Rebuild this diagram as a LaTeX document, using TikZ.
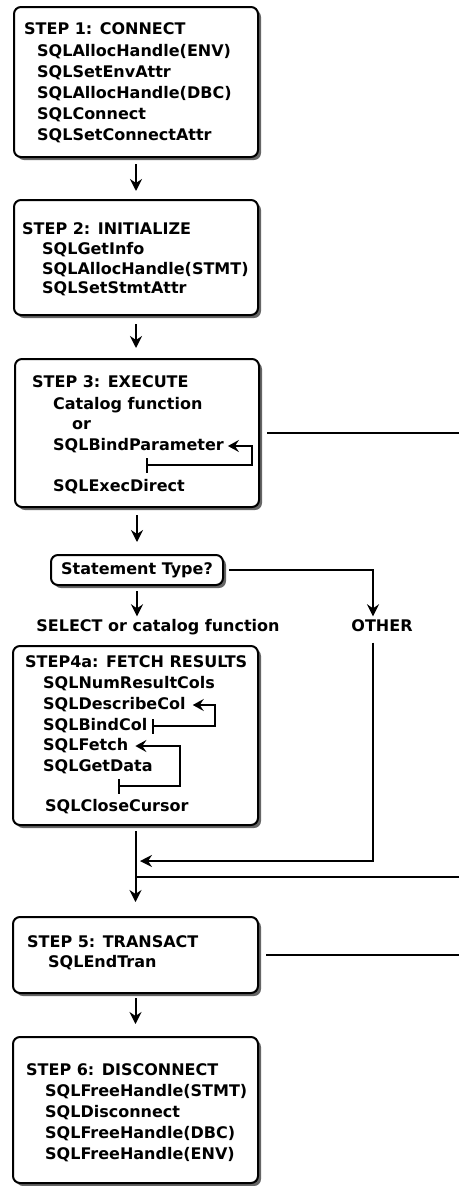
\documentclass[tikz,border=0pt]{standalone}
\usepackage{fontspec}
\setmainfont{DejaVu Sans}
\usetikzlibrary{ arrows.meta, % For the stealth and bar tips
                 shadows      % For the shadow under every box
               }

\begin{document}
\begin{tikzpicture}[x=1pt, y=-1pt,
  stepbox/.style={draw, line width=2pt, rounded corners=7pt, fill=white,
    font=\bfseries\fontsize{16}{16}\selectfont,
    drop shadow={shadow xshift=3pt, shadow yshift=-3pt, fill=black!60, opacity=1}},
  call/.style={anchor=west, inner sep=2pt, text height=12pt, text depth=3pt,
    font=\bfseries\fontsize{16}{16}\selectfont},
  tag/.style={call, anchor=center},
  flow/.style={line width=2pt, -{Stealth[length=12pt, width=12pt, inset=4pt]}},
  loop_line/.style={line width=2pt, {Bar[width=15pt]}-{Stealth[length=11pt, width=12pt, inset=4pt]}}]
  \useasboundingbox (0,0) rectangle (459,1186); % pixel grid of the page

  \node[stepbox, minimum width=244pt, minimum height=150pt] (connect) at (136,82) {};
  \node[call] (connect_title) at (22,30) {STEP 1: CONNECT};
  \node[call] (env_handle) at (35,52) {SQLAllocHandle(ENV)};
  \node[call] (set_env_attr) at (35,73) {SQLSetEnvAttr};
  \node[call] (dbc_handle) at (35,94) {SQLAllocHandle(DBC)};
  \node[call] (sql_connect) at (35,115) {SQLConnect};
  \node[call] (set_connect_attr) at (35,136) {SQLSetConnectAttr};

  \node[stepbox, minimum width=244pt, minimum height=115pt] (initialize) at (136,257.5) {};
  \node[call] (initialize_title) at (20,230) {STEP 2: INITIALIZE};
  \node[call] (get_info) at (40,250) {SQLGetInfo};
  \node[call] (stmt_handle) at (40,270) {SQLAllocHandle(STMT)};
  \node[call] (set_stmt_attr) at (40,289) {SQLSetStmtAttr};

  \node[stepbox, minimum width=244pt, minimum height=148pt] (execute) at (137,433) {};
  \node[call] (execute_title) at (30,383) {STEP 3: EXECUTE};
  \node[call] (catalog) at (51,405) {Catalog function};
  \node[call] (or) at (70,425) {or};
  \node[call] (bind_param) at (51,446) {SQLBindParameter};
  \node[call] (exec_direct) at (51,487) {SQLExecDirect};

  \node[stepbox, minimum width=172pt, minimum height=30pt] (stmt_type) at (137,570) {Statement Type?};
  \node[tag] (select_label) at (158,627) {SELECT or catalog function};
  \node[tag] (other_label) at (382,627) {OTHER};

  \node[stepbox, minimum width=245pt, minimum height=179pt] (fetch) at (135.5,735.5) {};
  \node[call] (fetch_title) at (23,663) {STEP4a: FETCH RESULTS};
  \node[call] (num_result_cols) at (41,684) {SQLNumResultCols};
  \node[call] (describe_col) at (41,705) {SQLDescribeCol};
  \node[call] (bind_col) at (41,726) {SQLBindCol};
  \node[call] (sql_fetch) at (41,746) {SQLFetch};
  \node[call] (get_data) at (41,767) {SQLGetData};
  \node[call] (close_cursor) at (43,807) {SQLCloseCursor};

  \node[stepbox, minimum width=245pt, minimum height=76pt] (transact) at (135.5,955) {};
  \node[call] (transact_title) at (25,943) {STEP 5: TRANSACT};
  \node[call] (end_tran) at (46,963) {SQLEndTran};

  \node[stepbox, minimum width=245pt, minimum height=146pt] (disconnect) at (135.5,1110) {};
  \node[call] (disconnect_title) at (24,1071) {STEP 6: DISCONNECT};
  \node[call] (free_stmt) at (43,1092) {SQLFreeHandle(STMT)};
  \node[call] (sql_disconnect) at (43,1113) {SQLDisconnect};
  \node[call] (free_dbc) at (43,1134) {SQLFreeHandle(DBC)};
  \node[call] (free_env) at (43,1155) {SQLFreeHandle(ENV)};

  \coordinate (param_loop) at (146,465);
  \coordinate (fetch_loop) at (118,786);
  \coordinate (other_join) at (136,861);
  \coordinate (loop_back) at (459,877);

  \draw[flow, shorten <=6pt, shorten >=8pt] (connect) -- (initialize);
  \draw[flow, shorten <=8pt, shorten >=10pt] (initialize.south) -- (initialize.south |- execute.north);
  \draw[flow, shorten <=7pt, shorten >=12pt] (execute.south) -- (execute.south |- stmt_type.north);
  \draw[flow, shorten <=5pt, shorten >=1pt] (stmt_type.south) -- (stmt_type.south |- select_label.north);
  \draw[flow, shorten <=5pt, shorten >=1pt] (stmt_type.east) -| ([xshift=-9pt]other_label.north);
  \draw[flow, shorten <=6pt, shorten >=4pt] ([xshift=-9pt]other_label.south) |- (other_join);
  \draw[flow, shorten <=5pt, shorten >=14pt] (fetch) -- (transact);
  \draw[flow, shorten <=4pt, shorten >=12pt] (transact) -- (disconnect);

  \draw[line width=2pt, shorten <=7pt] (execute.east) -- (execute.east -| loop_back);
  \draw[line width=2pt, shorten <=7pt] (transact.east) -- (transact.east -| loop_back);
  \draw[line width=2pt] (loop_back) -- (loop_back -| fetch.south);

  \draw[loop_line, shorten >=2pt] (param_loop) -- ++(106,0) |- (bind_param.east);
  \draw[loop_line, shorten >=5pt] ([xshift=3pt]bind_col.east) -- ++(63,0) |- (describe_col.east);
  \draw[loop_line, shorten >=5pt] (fetch_loop) -- ++(62,0) |- (sql_fetch.east);
\end{tikzpicture}
\end{document}
